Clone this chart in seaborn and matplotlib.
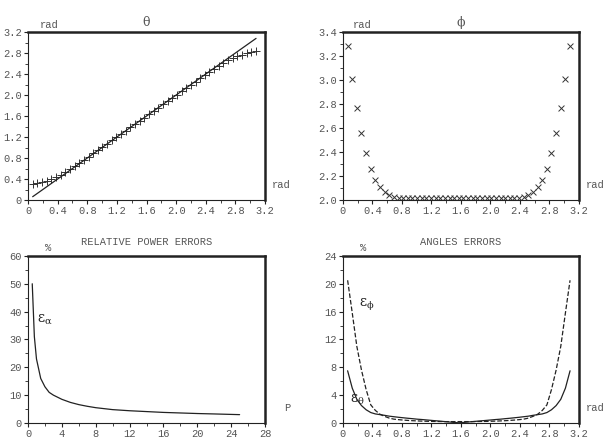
import numpy as np
import pandas as pd
import seaborn as sns
import matplotlib.pyplot as plt
from matplotlib.ticker import MultipleLocator, FuncFormatter

# ---- data ----
angle = [0.063, 0.126, 0.188, 0.251, 0.314, 0.377, 0.440, 0.503, 0.565, 0.628,
         0.691, 0.754, 0.817, 0.880, 0.942, 1.005, 1.068, 1.131, 1.194, 1.257,
         1.319, 1.382, 1.445, 1.508, 1.571, 1.634, 1.696, 1.759, 1.822, 1.885,
         1.948, 2.011, 2.073, 2.136, 2.199, 2.262, 2.325, 2.388, 2.450, 2.513,
         2.576, 2.639, 2.702, 2.765, 2.827, 2.890, 2.953, 3.016, 3.079]

theta_est = [0.31, 0.33, 0.35, 0.37, 0.40, 0.43, 0.48, 0.53, 0.59, 0.645,
             0.705, 0.765, 0.827, 0.888, 0.950, 1.012, 1.074, 1.136, 1.198, 1.260,
             1.322, 1.384, 1.446, 1.509, 1.571, 1.633, 1.696, 1.758, 1.820, 1.882,
             1.944, 2.006, 2.068, 2.130, 2.192, 2.254, 2.315, 2.377, 2.437, 2.497,
             2.552, 2.612, 2.662, 2.712, 2.742, 2.772, 2.792, 2.812, 2.832]

phi_est = [3.28, 3.01, 2.77, 2.56, 2.39, 2.26, 2.165, 2.105, 2.065, 2.04,
           2.025, 2.02, 2.017, 2.015, 2.015, 2.015, 2.015, 2.015, 2.015, 2.015,
           2.015, 2.015, 2.015, 2.015, 2.015, 2.015, 2.015, 2.015, 2.015, 2.015,
           2.015, 2.015, 2.015, 2.015, 2.015, 2.015, 2.017, 2.02, 2.025, 2.04,
           2.065, 2.105, 2.165, 2.26, 2.39, 2.56, 2.77, 3.01, 3.28]

power = [0.5, 0.75, 1.0, 1.5, 2.0, 2.5, 3.0, 4.0, 5.0, 6.0, 7.0, 8.0,
         10.0, 12.0, 14.0, 16.0, 18.0, 20.0, 22.0, 25.0]
eps_alpha = [50.0, 31.0, 23.0, 16.0, 13.0, 11.0, 10.0, 8.5, 7.4, 6.6, 6.0, 5.5,
             4.8, 4.4, 4.1, 3.8, 3.6, 3.4, 3.25, 3.0]

eps_theta = [7.5, 5.0, 3.4, 2.5, 1.9, 1.5, 1.3, 1.2, 1.1, 0.98,
             0.9, 0.82, 0.75, 0.68, 0.62, 0.55, 0.5, 0.44, 0.38, 0.32,
             0.26, 0.2, 0.14, 0.08, 0.03, 0.08, 0.14, 0.2, 0.26, 0.32,
             0.38, 0.44, 0.5, 0.55, 0.62, 0.68, 0.75, 0.82, 0.9, 0.98,
             1.1, 1.2, 1.3, 1.5, 1.9, 2.5, 3.4, 5.0, 7.5]
eps_phi = [20.5, 15.8, 11.0, 7.6, 4.8, 2.6, 1.8, 1.25, 0.95, 0.7,
           0.55, 0.48, 0.42, 0.37, 0.33, 0.3, 0.27, 0.25, 0.23, 0.22,
           0.21, 0.2, 0.2, 0.2, 0.2, 0.2, 0.2, 0.2, 0.21, 0.22,
           0.23, 0.25, 0.27, 0.3, 0.33, 0.37, 0.42, 0.48, 0.55, 0.7,
           0.95, 1.25, 1.8, 2.6, 4.8, 7.6, 11.0, 15.8, 20.5]

df = pd.DataFrame({"angle": angle, "theta": theta_est, "phi": phi_est,
                   "eps_theta": eps_theta, "eps_phi": eps_phi})
dfp = pd.DataFrame({"P": power, "eps": eps_alpha})

sns.set_style("ticks")
plt.rcParams["font.family"] = ["Liberation Mono", "DejaVu Sans Mono"]
plt.rcParams["mathtext.fontset"] = "custom"
plt.rcParams["mathtext.rm"] = "DejaVu Serif"
plt.rcParams["mathtext.it"] = "DejaVu Serif"
plt.rcParams["mathtext.default"] = "rm"

ink = "#222222"
grey = "#555555"
serif = ["DejaVu Serif"]

fig = plt.figure(figsize=(6.13, 4.42), dpi=100)
ax1 = fig.add_axes([0.0457, 0.5475, 0.3866, 0.380])
ax2 = fig.add_axes([0.5595, 0.5475, 0.385, 0.380])
ax3 = fig.add_axes([0.0457, 0.043, 0.3866, 0.378])
ax4 = fig.add_axes([0.5595, 0.043, 0.385, 0.378])


def fmt(v, pos):
    if abs(v) < 1e-9:
        return "0"
    return f"{v:.1f}"


def style(ax, xmax, xstep, ymin, ymax, ystep, yfmt=None):
    ax.set_xlim(0, xmax)
    ax.set_ylim(ymin, ymax)
    ax.xaxis.set_major_locator(MultipleLocator(xstep))
    ax.xaxis.set_minor_locator(MultipleLocator(xstep / 2))
    ax.yaxis.set_major_locator(MultipleLocator(ystep))
    ax.yaxis.set_minor_locator(MultipleLocator(ystep / 2))
    if yfmt:
        ax.yaxis.set_major_formatter(FuncFormatter(yfmt))
    ax.tick_params(which="major", length=3, width=0.8, color=ink,
                   labelsize=7.5, labelcolor=grey, pad=1.5)
    ax.tick_params(which="minor", length=2, width=0.6, color=ink)
    for s in ["left", "bottom"]:
        ax.spines[s].set_linewidth(0.8)
        ax.spines[s].set_color(ink)
    for s in ["top", "right"]:
        ax.spines[s].set_linewidth(1.8)
        ax.spines[s].set_color(ink)
    ax.set_xlabel("")
    ax.set_ylabel("")


# theta
sns.lineplot(data=df, x="angle", y="angle", ax=ax1, color=ink, lw=0.9)
sns.scatterplot(data=df, x="angle", y="theta", ax=ax1, marker="+", s=30,
                color="#333333", linewidth=0.7)
style(ax1, 3.2, 0.4, 0, 3.2, 0.4, fmt)
ax1.xaxis.set_major_formatter(FuncFormatter(fmt))
ax1.set_title("θ", fontsize=9, color=grey, pad=4, family=serif)
ax1.text(0.09, 1.015, "rad", transform=ax1.transAxes, fontsize=7.5, color=grey, ha="center", va="bottom")
ax1.text(1.03, 0.09, "rad", transform=ax1.transAxes, fontsize=7.5, color=grey, ha="left", va="center")

# phi
sns.scatterplot(data=df, x="angle", y="phi", ax=ax2, marker="x", s=18,
                color="#333333", linewidth=0.7)
style(ax2, 3.2, 0.4, 2.0, 3.4, 0.2, lambda v, p: f"{v:.1f}")
ax2.xaxis.set_major_formatter(FuncFormatter(fmt))
ax2.set_title("ϕ", fontsize=9, color=grey, pad=4, family=serif)
ax2.text(0.04, 1.015, "rad", transform=ax2.transAxes, fontsize=7.5, color=grey, ha="left", va="bottom")
ax2.text(1.03, 0.09, "rad", transform=ax2.transAxes, fontsize=7.5, color=grey, ha="left", va="center")

# relative power errors
sns.lineplot(data=dfp, x="P", y="eps", ax=ax3, color=ink, lw=0.9)
style(ax3, 28, 4, 0, 60, 10)
ax3.set_title("RELATIVE POWER ERRORS", fontsize=7.5, color=grey, pad=8)
ax3.text(0.085, 1.015, "%", transform=ax3.transAxes, fontsize=7.5, color=grey, ha="center", va="bottom")
ax3.text(1.08, 0.09, "P", transform=ax3.transAxes, fontsize=7.5, color=grey, ha="left", va="center")
ax3.text(1.1, 37, r"$\epsilon_\alpha$", fontsize=10, color=ink, ha="left", va="center")

# angles errors
sns.lineplot(data=df, x="angle", y="eps_phi", ax=ax4, color=ink, lw=0.9, linestyle="--")
sns.lineplot(data=df, x="angle", y="eps_theta", ax=ax4, color=ink, lw=0.9)
style(ax4, 3.2, 0.4, 0, 24, 4)
ax4.xaxis.set_major_formatter(FuncFormatter(fmt))
ax4.set_title("ANGLES ERRORS", fontsize=7.5, color=grey, pad=8)
ax4.text(0.085, 1.015, "%", transform=ax4.transAxes, fontsize=7.5, color=grey, ha="center", va="bottom")
ax4.text(1.03, 0.09, "rad", transform=ax4.transAxes, fontsize=7.5, color=grey, ha="left", va="center")
ax4.text(0.22, 17, r"$\epsilon_\phi$", fontsize=10, color=ink, ha="left", va="center")
ax4.text(0.1, 3.4, r"$\epsilon_\theta$", fontsize=10, color=ink, ha="left", va="center")

fig.savefig("out.png", dpi=100, facecolor="white")
